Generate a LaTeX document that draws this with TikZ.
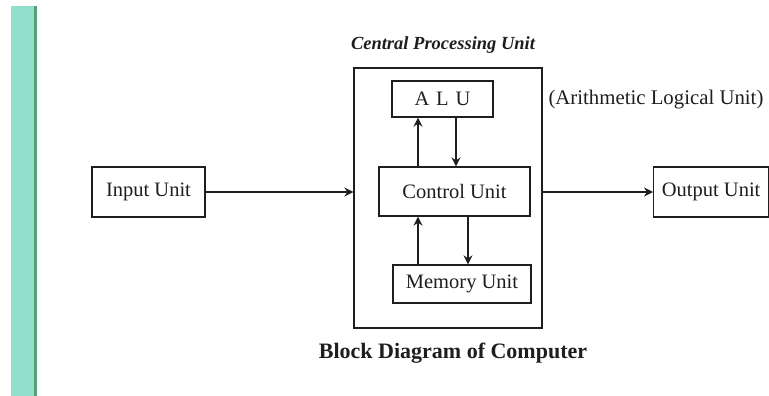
\documentclass[tikz,border=0pt]{standalone}
\usepackage{fontspec}
\setmainfont{Liberation Serif}
\usetikzlibrary{arrows.meta}
\definecolor{tealbar}{RGB}{148,222,204}
\definecolor{tealedge}{RGB}{84,160,122}
\definecolor{ink}{RGB}{30,30,30}
\begin{document}
\begin{tikzpicture}[x=1pt,y=-1pt,
  blk/.style={draw=ink,line width=1.3pt,inner sep=0pt,
    font=\fontsize{20.5}{24}\selectfont,text=ink},
  conn/.style={draw=ink,line width=1.3pt,-{Stealth[length=9pt,width=9pt,inset=3pt]}}
]
\useasboundingbox (0,0) rectangle (769,396);
\fill[white] (0,0) rectangle (769,396);
% teal side bar
\fill[tealbar] (11,6) rectangle (35,396);
\fill[tealedge] (34,6) rectangle (36.5,396);
% boxes
\node[blk,minimum width=113pt,minimum height=50pt] (in) at (148.5,192) {Input Unit};
\node[draw=ink,line width=1.3pt,minimum width=188pt,minimum height=260pt,inner sep=0pt] (cpu) at (448,198) {};
\node[blk,minimum width=101pt,minimum height=36pt] (alu) at (442.5,99) {A\,\,L\,\,U};
\node[blk,minimum width=151pt,minimum height=49pt] (cu) at (454.5,191.5) {Control Unit};
\node[blk,minimum width=138pt,minimum height=38pt] (mem) at (462,284) {Memory Unit};
\node[blk,minimum width=115pt,minimum height=50pt,anchor=west] (out) at (653,192) {Output Unit};
% labels
\node[font=\fontsize{18.5}{22}\selectfont\bfseries\itshape,text=ink] (cpul) at (443,45) {Central Processing Unit};
\node[font=\fontsize{20.8}{24}\selectfont,text=ink,anchor=west] (alul) at (545,100) {(Arithmetic Logical Unit)};
\node[font=\fontsize{22}{26}\selectfont\bfseries,text=ink] (title) at (453,353) {Block Diagram of Computer};
% connectors
\draw[conn] (in.east) -- (in.east -| cpu.west);
\draw[conn] (cpu.east |- out.west) -- (out.west);
\draw[conn] (cu.north -| 418,0) -- (alu.south -| 418,0);
\draw[conn] (alu.south -| 456,0) -- (cu.north -| 456,0);
\draw[conn] (mem.north -| 418,0) -- (cu.south -| 418,0);
\draw[conn] (cu.south -| 468,0) -- (mem.north -| 468,0);
\end{tikzpicture}
\end{document}
